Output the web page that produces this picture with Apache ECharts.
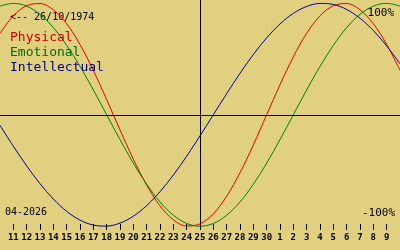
<!DOCTYPE html>
<html>
<head>
<meta charset="utf-8">
<script src="https://cdn.jsdelivr.net/npm/echarts@6/dist/echarts.min.js"></script>
<style>
html,body{margin:0;padding:0;background:#e0d080;}
#c{width:400px;height:250px;}
</style>
</head>
<body>
<div id="c"></div>
<script>
// Days shown: 10 April 2026 .. 10 May 2026
const days = ['10','11','12','13','14','15','16','17','18','19','20','21','22','23','24','25','26','27','28','29','30',
              '1','2','3','4','5','6','7','8','9','10'];
const today = '25';
const monthLabel = '04-2026';
const birthLabel = '<-- 26/10/1974';
const topLabel = '100%';
const bottomLabel = '-100%';
const seriesNames = ['Physical','Emotional','Intellectual'];

const physical = [0.731,0.888,0.979,0.998,0.942,0.817,0.631,0.398,0.136,-0.136,-0.398,-0.631,-0.817,-0.942,-0.998,
                  -0.979,-0.888,-0.731,-0.520,-0.270,0,0.270,0.520,0.731,0.888,0.979,0.998,0.942,0.817,0.631,0.398];
const emotional = [0.975,1,0.975,0.901,0.782,0.623,0.434,0.223,0,-0.223,-0.434,-0.623,-0.782,-0.901,-0.975,
                   -1,-0.975,-0.901,-0.782,-0.623,-0.434,-0.223,0,0.223,0.434,0.623,0.782,0.901,0.975,1,0.975];
const intellectual = [-0.095,-0.282,-0.458,-0.618,-0.756,-0.866,-0.945,-0.990,-0.999,-0.972,-0.910,-0.815,-0.690,-0.541,-0.372,
                      -0.189,0,0.189,0.372,0.541,0.690,0.815,0.910,0.972,0.999,0.990,0.945,0.866,0.756,0.618,0.458];

const lineColors = ['#e00000','#008000','#000090'];
const textColors = ['#cc0000','#007000','#000080'];
const mono = '"DejaVu Sans Mono", "Liberation Mono", monospace';
const last = days.length - 1;
const inner = (i) => i > 0 && i < last;

const chart = echarts.init(document.getElementById('c'), null, {renderer:'canvas'});
const values = [physical, emotional, intellectual];
const series = seriesNames.map((n, k) => ({
  name: n, type: 'line', data: values[k], smooth: 0.35, symbol: 'none', clip: false,
  lineStyle: {color: lineColors[k], width: 1}, itemStyle: {color: lineColors[k]},
  animation: false, z: 3
}));
series[0].markLine = {
  silent: true, symbol: 'none', animation: false,
  label: {show: false},
  lineStyle: {color: '#000', width: 1, type: 'solid'},
  data: [{xAxis: today}, {yAxis: 0}]
};

chart.setOption({
  backgroundColor: '#e0d080',
  animation: false,
  grid: {left: 0, right: 0, top: 0, height: 224},
  xAxis: {
    type: 'category', data: days, boundaryGap: false,
    axisLine: {show: false, onZero: false},
    axisTick: {show: true, length: 6, interval: inner, lineStyle: {color: '#000', width: 1}},
    axisLabel: {interval: inner, margin: 9, color: '#000', fontFamily: mono, fontSize: 9, fontWeight: 'bold'},
    splitLine: {show: false}
  },
  yAxis: {
    type: 'value', min: -0.98, max: 1.03, show: false, splitLine: {show: false}
  },
  legend: {
    orient: 'vertical', left: 5, top: 31, padding: 0, itemGap: 2,
    icon: 'none', itemWidth: 0, itemHeight: 13, selectedMode: false,
    textStyle: {fontFamily: mono, fontSize: 13, lineHeight: 13},
    data: seriesNames.map((n, k) => ({name: n, textStyle: {color: textColors[k]}}))
  },
  graphic: [
    {type: 'text', left: 10, top: 12, style: {text: birthLabel, fill: '#000', font: '10px ' + mono}},
    {type: 'text', left: 5, top: 207, style: {text: monthLabel, fill: '#000', font: '10px ' + mono}},
    {type: 'text', right: 6, top: 8, style: {text: topLabel, fill: '#000', font: '11px ' + mono}},
    {type: 'text', right: 5, top: 208, style: {text: bottomLabel, fill: '#000', font: '11px ' + mono}}
  ],
  series: series
});
</script>
</body>
</html>
